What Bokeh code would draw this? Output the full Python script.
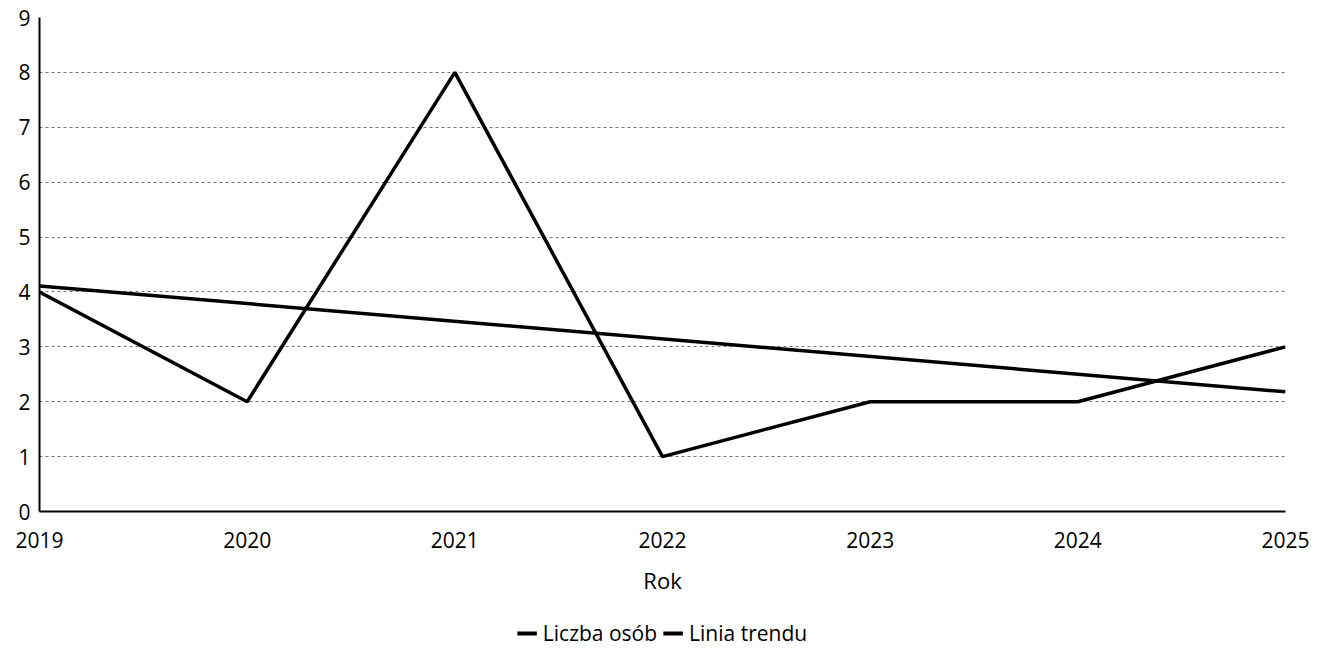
from bokeh.plotting import figure
from bokeh.layouts import column
from bokeh.models import ColumnDataSource, FixedTicker, Legend, LegendItem, Range1d
from bokeh.embed import file_html
from bokeh.resources import INLINE

years = [2019, 2020, 2021, 2022, 2023, 2024, 2025]
liczba_osob = [4, 2, 8, 1, 2, 2, 3]
trend_years = [2019, 2025]
trend_values = [4.11, 2.18]
y_ticks = [0, 1, 2, 3, 4, 5, 6, 7, 8, 9]
series_names = ["Liczba osób", "Linia trendu"]

FONT = "Open Sans"
LW = 3.5

p = figure(width=1322, height=618, output_backend="svg", toolbar_location=None,
           x_range=Range1d(2019, 2025), y_range=Range1d(0, 9))
p.min_border_left = 39
p.min_border_right = 37
p.min_border_top = 17
p.min_border_bottom = 107
p.outline_line_color = None
p.background_fill_color = "white"
p.border_fill_color = "white"

src = ColumnDataSource(dict(x=years, y=liczba_osob))
tsrc = ColumnDataSource(dict(x=trend_years, y=trend_values))
p.line("x", "y", source=src, line_color="black", line_width=LW)
p.line("x", "y", source=tsrc, line_color="black", line_width=LW)

p.xaxis.ticker = FixedTicker(ticks=years)
p.yaxis.ticker = FixedTicker(ticks=y_ticks)
for ax in (p.xaxis, p.yaxis):
    ax.major_tick_line_color = None
    ax.minor_tick_line_color = None
    ax.major_tick_out = 0
    ax.major_tick_in = 0
    ax.axis_line_color = "black"
    ax.axis_line_width = 2
    ax.major_label_text_font = FONT
    ax.major_label_text_font_size = "21px"
    ax.major_label_text_color = "black"
p.yaxis.major_label_standoff = 9
p.xaxis.major_label_standoff = 20
p.xaxis.axis_label = "Rok"
p.xaxis.axis_label_text_font = FONT
p.xaxis.axis_label_text_font_size = "22px"
p.xaxis.axis_label_text_font_style = "normal"
p.xaxis.axis_label_text_color = "black"
p.xaxis.axis_label_standoff = 14

p.xgrid.grid_line_color = None
p.ygrid.grid_line_color = "#555555"
p.ygrid.grid_line_width = 1
p.ygrid.grid_line_dash = "3 3"
p.ygrid.grid_line_alpha = 0.8

# legend strip below the chart
lf = figure(width=1322, height=30, output_backend="svg", toolbar_location=None,
            x_range=Range1d(0, 1), y_range=Range1d(0, 1),
            x_axis_location=None, y_axis_location=None)
lf.min_border_left = 10
lf.min_border_right = 0
lf.min_border_top = 0
lf.min_border_bottom = 0
lf.outline_line_color = None
lf.xgrid.grid_line_color = None
lf.ygrid.grid_line_color = None
offscreen = ColumnDataSource(dict(x=[5, 6], y=[5, 6]))
l1 = lf.line("x", "y", source=offscreen, line_color="black", line_width=4)
l2 = lf.line("x", "y", source=offscreen, line_color="black", line_width=4)
legend = Legend(items=[LegendItem(label=series_names[0], renderers=[l1]),
                       LegendItem(label=series_names[1], renderers=[l2])],
                orientation="horizontal", location="center")
legend.label_text_font = FONT
legend.label_text_font_size = "21px"
legend.label_text_color = "black"
legend.glyph_width = 20
legend.label_standoff = 6
legend.spacing = 6
legend.border_line_color = None
legend.background_fill_alpha = 0
legend.padding = 0
legend.margin = 0
lf.add_layout(legend, "center")

layout = column(p, lf, spacing=0)
open("out.html", "w").write(file_html(layout, INLINE))
